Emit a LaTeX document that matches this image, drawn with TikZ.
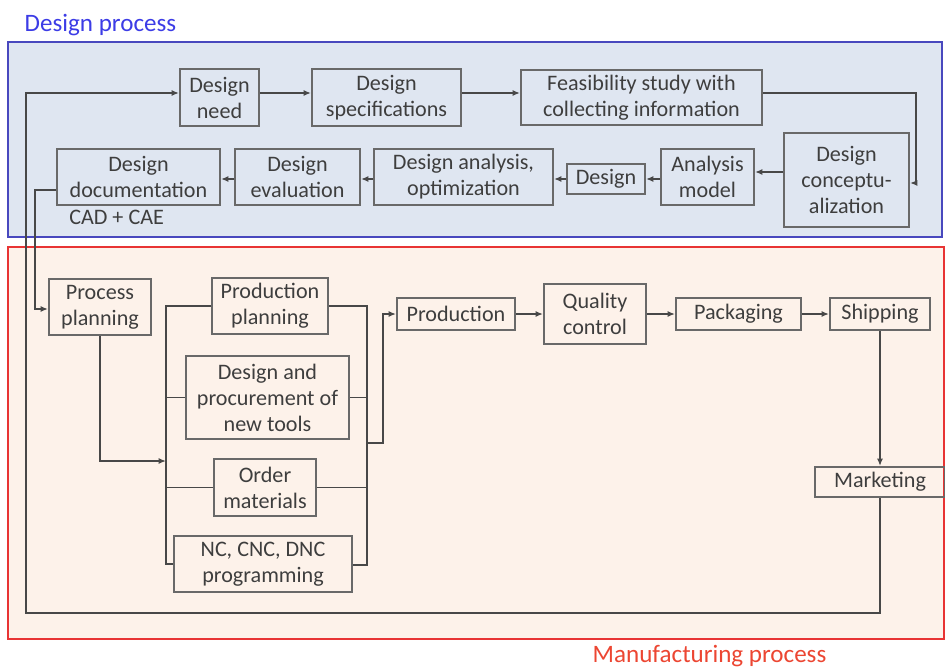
\documentclass[tikz,border=0pt]{standalone}
\usepackage{fontspec}
\setmainfont{Carlito}
\usetikzlibrary{arrows.meta,calc}

\definecolor{designfill}{RGB}{223,230,241}
\definecolor{designline}{RGB}{72,72,190}
\definecolor{designtext}{RGB}{60,60,230}
\definecolor{manufill}{RGB}{253,242,234}
\definecolor{manuline}{RGB}{232,52,52}
\definecolor{manutext}{RGB}{236,70,50}
\definecolor{boxline}{RGB}{105,105,105}
\definecolor{flowline}{RGB}{72,72,72}
\definecolor{labeltext}{RGB}{62,62,62}

\tikzset{
  stepbox/.style 2 args={draw=boxline, line width=1.5pt, text=labeltext,
    align=center, inner sep=0pt,
    minimum width=#1*0.75pt, minimum height=#2*0.75pt,
    font=\fontsize{16.6}{19.5}\selectfont},
  flow/.style={draw=flowline, line width=1.1pt},
  arr/.style={flow, -{Latex[length=5.5pt,width=4.5pt]}},
}

\begin{document}
\begin{tikzpicture}[x=0.75pt, y=-0.75pt]
\useasboundingbox (0,0) rectangle (945,667);

% process regions
\filldraw[fill=designfill, draw=designline, line width=1.5pt] (8,42) rectangle (942,237);
\filldraw[fill=manufill, draw=manuline, line width=1.5pt] (8,247) rectangle (944,639);

\node[anchor=base west, text=designtext, font=\fontsize{18.8}{22}\selectfont] (dtitle) at (20,32) {Design process};
\node[anchor=base west, text=manutext, font=\fontsize{18.8}{22}\selectfont] (mtitle) at (588,662) {Manufacturing process};

% design steps
\node[stepbox={79}{57}]  (need)     at (219.5,97.5) {Design\\need};
\node[stepbox={149}{57}] (spec)     at (386.5,97.5) {Design\\specifications};
\node[stepbox={241}{55}] (feas)     at (641.5,97.5) {Feasibility study with\\collecting information};
\node[stepbox={125}{94}] (concept)  at (846.5,180)  {Design\\conceptu-\\alization};
\node[stepbox={93}{56}]  (amodel)   at (707.5,177)  {Analysis\\model};
\node[stepbox={78}{30}]  (design)   at (606,179)    {Design};
\node[stepbox={179}{56}] (danalysis) at (463.5,177) {Design analysis,\\optimization};
\node[stepbox={125}{56}] (deval)    at (297.5,177)  {Design\\evaluation};
\node[stepbox={163}{56}] (ddoc)     at (138.5,177)  {Design\\documentation};
\node[anchor=base west, text=labeltext, font=\fontsize{16.6}{19.5}\selectfont, inner sep=0pt] (cad) at (69,224) {CAD + CAE};

% manufacturing steps
\node[stepbox={102}{56}] (pplan)      at (100,307)   {Process\\planning};
\node[stepbox={116}{56}] (prodplan)   at (270,306)   {Production\\planning};
\node[stepbox={163}{83}] (dproc)      at (267.5,397.5) {Design and\\procurement of\\new tools};
\node[stepbox={102}{57}] (order)      at (265,487.5) {Order\\materials};
\node[stepbox={178}{56}] (nc)         at (263,564)   {NC, CNC, DNC\\programming};
\node[stepbox={118}{32}] (production) at (456,314)   {Production};
\node[stepbox={102}{60}] (quality)    at (595,314)   {Quality\\control};
\node[stepbox={125}{32}] (packaging)  at (738.5,314) {Packaging};
\node[stepbox={100}{32}] (shipping)   at (880,314)   {Shipping};
\node[stepbox={130}{30}] (marketing)  at (880,482)   {Marketing};

% routing points
\coordinate (r1) at (0,93);
\coordinate (rt) at (916,183);
\coordinate (r2) at (0,172);
\coordinate (k0) at (0,190);
\coordinate (k1) at (35,309);
\coordinate (lb) at (26,613);
\coordinate (lbus) at (166,461);
\coordinate (lbusb) at (166,564);
\coordinate (rbusb) at (367,565);
\coordinate (rj) at (367,443);
\coordinate (pj) at (383,443);

% design flow
\draw[arr] (need.east |- r1) -- (spec.west |- r1);
\draw[arr] (spec.east |- r1) -- (feas.west |- r1);
\draw[arr] (feas.east |- r1) -| (rt) -- (concept.east |- rt);
\draw[arr] (concept.west |- r2) -- (amodel.east |- r2);
\draw[arr] (amodel.west |- design) -- (design.east);
\draw[arr] (design.west) -- (danalysis.east |- design);
\draw[arr] (danalysis.west |- design) -- (deval.east |- design);
\draw[arr] (deval.west |- design) -- (ddoc.east |- design);
\draw[arr] (ddoc.west |- k0) -| (k1) -- (pplan.west |- k1);

% planning fan-out and fan-in
\draw[arr] (pplan.south) |- (lbus);
\draw[flow] (prodplan.west) -| (lbusb) -- (nc.west |- lbusb);
\draw[flow] (dproc.west) -- (dproc.west -| lbusb);
\draw[flow] (order.west) -- (order.west -| lbusb);
\draw[flow] (prodplan.east) -| (rbusb) -- (nc.east |- rbusb);
\draw[flow] (dproc.east) -- (dproc.east -| rbusb);
\draw[flow] (order.east) -- (order.east -| rbusb);
\draw[arr] (rj) -- (pj) |- (production.west);

% production line
\draw[arr] (production.east) -- (quality.west |- production.east);
\draw[arr] (quality.east |- production.east) -- (packaging.west);
\draw[arr] (packaging.east) -- (shipping.west);
\draw[arr] (shipping.south) -- (marketing.north);

% feedback to design need
\draw[arr] (marketing.south) |- (lb) |- (need.west |- r1);
\end{tikzpicture}
\end{document}
